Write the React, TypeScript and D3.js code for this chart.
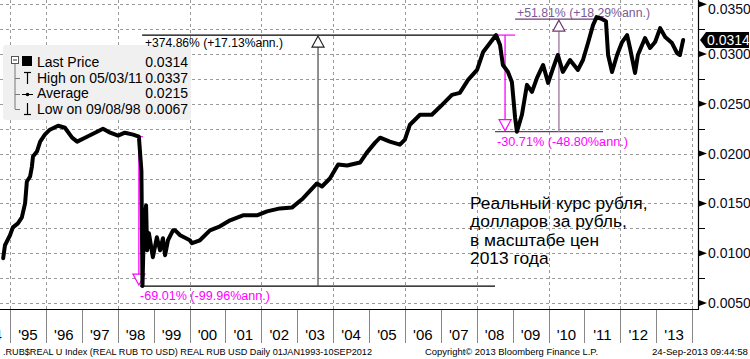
import React from "react";
import * as d3 from "d3";

const W = 750;
const H = 359;

// Real RUB per USD index (rubles-to-dollars, 2013 prices)
const YEARS = [1994.81,1994.86,1995.00,1995.08,1995.22,1995.33,1995.42,1995.47,1995.56,1995.61,1995.64,1995.75,1995.84,1995.97,1996.11,1996.34,1996.53,1996.73,1996.87,1997.09,1997.37,1997.59,1997.79,1998.01,1998.20,1998.43,1998.59,1998.66,1998.69,1998.73,1998.79,1998.82,1998.87,1998.98,1999.09,1999.18,1999.26,1999.32,1999.40,1999.54,1999.60,1999.74,2000.01,2000.07,2000.29,2000.57,2000.85,2001.13,2001.49,2001.88,2002.16,2002.52,2002.86,2003.16,2003.55,2003.69,2003.91,2004.14,2004.39,2004.75,2004.94,2005.17,2005.31,2005.58,2005.86,2006.00,2006.14,2006.42,2006.75,2006.98,2007.31,2007.53,2007.76,2008.01,2008.18,2008.37,2008.54,2008.65,2008.73,2008.87,2008.98,2009.07,2009.12,2009.26,2009.40,2009.54,2009.68,2009.85,2009.99,2010.13,2010.26,2010.40,2010.60,2010.82,2010.96,2011.10,2011.24,2011.34,2011.50,2011.60,2011.66,2011.77,2011.91,2012.05,2012.19,2012.27,2012.41,2012.49,2012.69,2012.83,2012.97,2013.11,2013.25,2013.44,2013.58,2013.66,2013.75];
const VALUES = [0.0095,0.0108,0.0118,0.0126,0.0130,0.0136,0.0150,0.0172,0.0177,0.0187,0.0197,0.0202,0.0212,0.0219,0.0224,0.0228,0.0226,0.0216,0.0212,0.0216,0.0221,0.0225,0.0221,0.0218,0.0221,0.0219,0.0217,0.0183,0.0067,0.0126,0.0148,0.0103,0.0120,0.0096,0.0116,0.0103,0.0115,0.0098,0.0113,0.0123,0.0123,0.0118,0.0113,0.0110,0.0113,0.0123,0.0127,0.0133,0.0138,0.0138,0.0142,0.0145,0.0146,0.0155,0.0170,0.0167,0.0175,0.0189,0.0188,0.0191,0.0201,0.0211,0.0216,0.0212,0.0209,0.0214,0.0229,0.0239,0.0239,0.0247,0.0259,0.0261,0.0274,0.0284,0.0302,0.0311,0.0319,0.0309,0.0289,0.0282,0.0272,0.0236,0.0222,0.0239,0.0269,0.0262,0.0276,0.0289,0.0271,0.0286,0.0299,0.0282,0.0294,0.0284,0.0294,0.0311,0.0329,0.0337,0.0335,0.0333,0.0299,0.0282,0.0299,0.0312,0.0319,0.0306,0.0281,0.0299,0.0316,0.0306,0.0312,0.0326,0.0317,0.0311,0.0301,0.0299,0.0314];

const Y_MAJOR = [0.005, 0.01, 0.015, 0.02, 0.025, 0.03, 0.035];
const Y_GRID = [0.005,0.0075,0.01,0.0125,0.015,0.0175,0.02,0.0225,0.025,0.0275,0.03,0.0325,0.035];
const X_TICK_YEARS = [1994,1995,1996,1997,1998,1999,2000,2001,2002,2003,2004,2005,2006,2007,2008,2009,2010,2011,2012,2013,2014];
const X_LABELS = ["'94","'95","'96","'97","'98","'99","'00","'01","'02","'03","'04","'05","'06","'07","'08","'09","'10","'11","'12","'13"];
const X_GRID_YEARS = [1995,1996,1998,2000,2002,2004,2006,2008,2010,2012,2014];

const LEGEND_LABELS = ["Last Price", "High on 05/03/11", "Average", "Low on 09/08/98"];
const LEGEND_VALUES = ["0.0314", "0.0337", "0.0215", "0.0067"];
const LAST_PRICE = 0.0314;

// annotation anchors (year, value)
const PEAK98 = { year: 1998.59, value: 0.0217 };
const LOW98 = { year: 1998.69, value: 0.0067 };
const PEAK08 = { year: 2008.54, value: 0.0319 };
const LOW09 = { year: 2009.12, value: 0.0222 };
const HIGH11 = { year: 2011.57, value: 0.0336 };
const ARROW_BLACK_YEAR = 2003.58;
const ARROW_MAG2_YEAR = 2008.79;
const ARROW_PURP_YEAR = 2010.29;

const NOTE_LINES = ["Реальный курс рубля,", "долларов за рубль,", "в масштабе цен", "2013 года"];

export default function App() {
  const x = d3.scaleLinear().domain([1994.7214, 2014.1643]).range([0, 698]);
  const y = d3.scaleLinear().domain([0.004398, 0.035422]).range([309, 0]);
  const pts = YEARS.map((yr, i) => [yr, VALUES[i]] as [number, number]);
  const line = d3.line<[number, number]>().x(d => x(d[0])).y(d => y(d[1])).curve(d3.curveLinear);

  const font = "Liberation Sans, Arial, sans-serif";
  const mag = "#ff00ff";
  const purple = "#6e3a74";

  const triUp = (cx: number, top: number) => `M${cx},${top} L${cx - 6},${top + 11} L${cx + 6},${top + 11} Z`;
  const triDown = (cx: number, bot: number) => `M${cx},${bot} L${cx - 6},${bot - 11} L${cx + 6},${bot - 11} Z`;

  const xb = x(ARROW_BLACK_YEAR);
  const xm1 = x(PEAK98.year);
  const xm2 = x(ARROW_MAG2_YEAR);
  const xp = x(ARROW_PURP_YEAR);

  return (
    <svg width={W} height={H} style={{ position: "absolute", left: 0, top: 0, background: "#fff" }} fontFamily={font}>
      <rect x={0} y={0} width={W} height={H} fill="#fff" />
      {/* grid */}
      {Y_GRID.map(v => (
        <line key={"gy" + v} x1={0} x2={693} y1={Math.round(y(v)) + 0.5} y2={Math.round(y(v)) + 0.5} stroke="#9a9a9a" strokeDasharray="3,3" strokeWidth={1} />
      ))}
      {X_GRID_YEARS.map(yr => (
        <line key={"gx" + yr} x1={Math.round(x(yr)) + 0.5} x2={Math.round(x(yr)) + 0.5} y1={0} y2={309} stroke="#9a9a9a" strokeDasharray="3,3" strokeWidth={1} />
      ))}

      {/* legend */}
      <rect x={3} y={45} width={188} height={75} rx={3} fill="#f0f0f0" />
      <rect x={11.5} y={56.5} width={7} height={7} fill="#fff" stroke="#555" />
      <line x1={13} x2={17} y1={60} y2={60} stroke="#333" />
      <line x1={15} x2={15} y1={64} y2={109} stroke="#777" />
      {[78, 94, 109].map(yy => <line key={"tr" + yy} x1={15} x2={20} y1={yy + 0.5} y2={yy + 0.5} stroke="#777" />)}
      <rect x={22} y={56} width={10} height={10} fill="#000" />
      <line x1={27.5} x2={27.5} y1={72} y2={84} stroke="#000" strokeWidth={1.2} />
      <line x1={24} x2={31} y1={72.5} y2={72.5} stroke="#000" strokeWidth={1.2} />
      <line x1={22} x2={33} y1={94.5} y2={94.5} stroke="#000" />
      <circle cx={27.5} cy={94.5} r={1.8} fill="#000" />
      <line x1={27.5} x2={27.5} y1={103} y2={115} stroke="#000" strokeWidth={1.2} />
      <line x1={24} x2={31} y1={114.5} y2={114.5} stroke="#000" strokeWidth={1.2} />
      {LEGEND_LABELS.map((l, i) => (
        <text key={"ll" + i} x={37} y={67 + i * 15.7} fontSize={14} fill="#000">{l}</text>
      ))}
      {LEGEND_VALUES.map((l, i) => (
        <text key={"lv" + i} x={188} y={67 + i * 15.7} fontSize={14} fill="#000" textAnchor="end">{l}</text>
      ))}

      {/* black +374.86% annotation */}
      <line x1={x(1998.68)} x2={x(PEAK08.year)} y1={y(PEAK08.value)} y2={y(PEAK08.value)} stroke="#000" strokeWidth={1.2} />
      <line x1={x(1998.62)} x2={x(2008.51)} y1={y(LOW98.value)} y2={y(LOW98.value)} stroke="#000" strokeWidth={1.2} />
      <line x1={xb} x2={xb} y1={y(LOW98.value)} y2={y(PEAK08.value) + 11} stroke="#555" strokeWidth={1.3} />
      <path d={triUp(xb, y(PEAK08.value) + 1)} fill="#fff" stroke="#222" strokeWidth={1.2} />
      <text x={145} y={y(PEAK08.value) + 12} fontSize={12} fill="#000" textLength={138} lengthAdjust="spacingAndGlyphs">+374.86% (+17.13%ann.)</text>

      {/* magenta -69.01% */}
      <line x1={xm1 - 2} x2={xm1 + 4} y1={y(PEAK98.value)} y2={y(PEAK98.value)} stroke={mag} strokeWidth={1.2} />
      <line x1={xm1} x2={xm1} y1={y(PEAK98.value)} y2={y(LOW98.value) - 10} stroke={mag} strokeWidth={1.3} />
      <path d={triDown(xm1, y(LOW98.value) - 1)} fill="#fff" stroke={mag} strokeWidth={1.2} />
      <text x={140} y={300} fontSize={12} fill={mag} textLength={130} lengthAdjust="spacingAndGlyphs">-69.01% (-99.96%ann.)</text>

      {/* magenta -30.71% */}
      <line x1={x(PEAK08.year)} x2={x(2009.07)} y1={y(PEAK08.value)} y2={y(PEAK08.value)} stroke={mag} strokeWidth={1.2} />
      <line x1={xm2} x2={xm2} y1={y(PEAK08.value)} y2={y(LOW09.value) - 10} stroke={mag} strokeWidth={1.3} />
      <path d={triDown(xm2, y(LOW09.value) - 1)} fill="#fff" stroke={mag} strokeWidth={1.2} />
      <text x={497} y={146} fontSize={12} fill={mag} textLength={131} lengthAdjust="spacingAndGlyphs">-30.71% (-48.80%ann.)</text>

      {/* purple +51.81% */}
      <line x1={x(2008.51)} x2={x(2011.52)} y1={y(LOW09.value)} y2={y(LOW09.value)} stroke={purple} strokeWidth={1.2} />
      <line x1={x(2009.07)} x2={x(HIGH11.year)} y1={y(HIGH11.value) + 1} y2={y(HIGH11.value) + 1} stroke={purple} strokeWidth={1.2} />
      <line x1={xp} x2={xp} y1={y(LOW09.value)} y2={y(HIGH11.value) + 12} stroke="#a888aa" strokeWidth={1.5} />
      <path d={triUp(xp, y(HIGH11.value) + 2)} fill="#fff" stroke={purple} strokeWidth={1.2} />
      <text x={517} y={17} fontSize={12} fill="#7a5a94" textLength={133} lengthAdjust="spacingAndGlyphs">+51.81% (+18.29%ann.)</text>

      {/* price line */}
      <path d={line(pts) || ""} fill="none" stroke="#000" strokeWidth={4} strokeLinejoin="round" strokeLinecap="round" />

      {/* note */}
      {NOTE_LINES.map((t, i) => (
        <text key={"n" + i} x={470} y={209 + i * 18.3} fontSize={17.4} fill="#000">{t}</text>
      ))}

      {/* right axis */}
      <line x1={698.5} x2={698.5} y1={0} y2={309.5} stroke="#000" strokeWidth={1.2} />
      {Y_GRID.filter(v => !Y_MAJOR.some(m => Math.abs(m - v) < 1e-9)).map(v => (
        <line key={"mt" + v} x1={698} x2={705} y1={Math.round(y(v)) + 0.5} y2={Math.round(y(v)) + 0.5} stroke="#000" />
      ))}
      {Y_MAJOR.map(v => {
        const ty = y(v);
        const ly = Math.max(ty, 9);
        return (
          <g key={"ym" + v}>
            <path d={`M699,${ty - 3} L707,${ty} L699,${ty + 3} Z`} fill="#000" />
            <text x={708} y={ly + 5} fontSize={14} fill="#0a0a20">{d3.format(".4f")(v)}</text>
          </g>
        );
      })}
      {/* last price tag */}
      <path d={`M700,${y(LAST_PRICE)} L706,${y(LAST_PRICE) - 8} L749,${y(LAST_PRICE) - 8} L749,${y(LAST_PRICE) + 8} L706,${y(LAST_PRICE) + 8} Z`} fill="#000" />
      <text x={707} y={y(LAST_PRICE) + 5} fontSize={14} fill="#fff">{d3.format(".4f")(LAST_PRICE)}</text>

      {/* bottom axis */}
      <line x1={0} x2={699} y1={309.5} y2={309.5} stroke="#000" strokeWidth={1.2} />
      {X_TICK_YEARS.map(yr => (
        <line key={"xt" + yr} x1={Math.round(x(yr)) + 0.5} x2={Math.round(x(yr)) + 0.5} y1={310} y2={343} stroke="#888" strokeWidth={1} />
      ))}
      {X_LABELS.map((l, i) => (
        <text key={"xl" + i} x={x(X_TICK_YEARS[i] + 0.5)} y={340} fontSize={15} fill="#000" textAnchor="middle">{l}</text>
      ))}

      {/* footer */}
      <text x={3} y={355} fontSize={9.5} fill="#000" textLength={369} lengthAdjust="spacingAndGlyphs">.RUB$REAL U Index (REAL RUB TO USD) REAL RUB USD  Daily 01JAN1993-10SEP2012</text>
      <text x={425} y={355} fontSize={9.5} fill="#000" textLength={173} lengthAdjust="spacingAndGlyphs">Copyright© 2013 Bloomberg Finance L.P.</text>
      <text x={652} y={355} fontSize={9.5} fill="#000" textLength={96} lengthAdjust="spacingAndGlyphs">24-Sep-2013 09:44:58</text>
    </svg>
  );
}
